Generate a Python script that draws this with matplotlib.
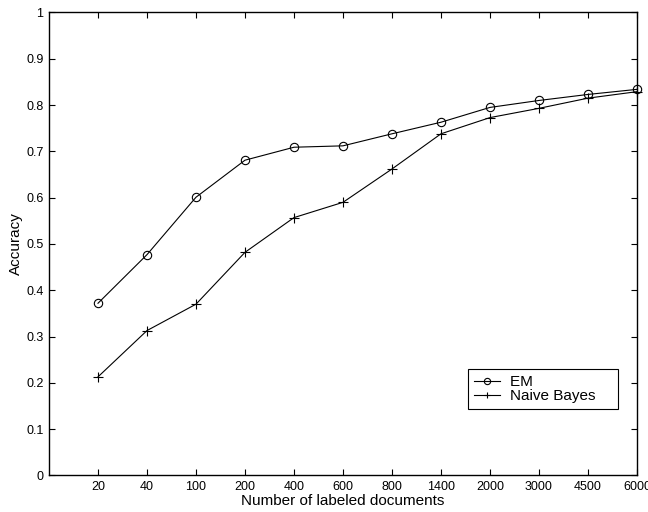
import matplotlib.pyplot as plt
import numpy as np

plt.rcParams['font.family'] = ['Liberation Sans', 'DejaVu Sans']

# labeled-document counts (categorical x axis)
doc_counts = ['20', '40', '100', '200', '400', '600', '800', '1400', '2000', '3000', '4500', '6000']
em_acc = [0.372, 0.477, 0.601, 0.681, 0.709, 0.712, 0.738, 0.763, 0.795, 0.810, 0.823, 0.834]
nb_acc = [0.213, 0.313, 0.370, 0.482, 0.557, 0.590, 0.662, 0.738, 0.773, 0.793, 0.815, 0.829]

fig = plt.figure(figsize=(6.48, 5.12), dpi=100)
ax = fig.add_axes([0.0756, 0.0713, 0.9074, 0.9043])

xs = np.arange(1, len(doc_counts) + 1)
ax.plot(xs, em_acc, color='black', lw=0.8, marker='o', ms=6, mfc='none',
        mec='black', mew=0.8, label='EM', clip_on=False)
ax.plot(xs, nb_acc, color='black', lw=0.8, marker='+', ms=6.5, mew=0.8,
        label='Naive Bayes', clip_on=False)

ax.set_xlim(0, len(doc_counts))
ax.set_ylim(0, 1)
ax.set_xticks(xs)
ax.set_xticklabels(doc_counts)
ax.set_yticks(np.arange(0, 1.01, 0.1))
ax.set_yticklabels(['0'] + ['%.1f' % v for v in np.arange(0.1, 0.95, 0.1)] + ['1'])
ax.tick_params(direction='in', top=True, right=True, length=4, width=0.8,
               labelsize=9, pad=4)
for s in ax.spines.values():
    s.set_linewidth(1.0)

ax.set_xlabel('Number of labeled documents', fontsize=11, labelpad=1)
ax.set_ylabel('Accuracy', fontsize=11, labelpad=2)

# MATLAB-style legend box, a bit of extra room on the right
leg = ax.legend(loc='upper right', bbox_to_anchor=(0.968, 0.230), fontsize=11,
                fancybox=False, edgecolor='black', framealpha=1,
                handlelength=1.65, borderpad=0.4, labelspacing=0.0,
                handletextpad=0.65, borderaxespad=0)
leg.get_frame().set_linewidth(0.8)
for h in leg.legend_handles:
    h.set_markersize(4.5)
for t in leg.get_texts():
    t.set_text(t.get_text() + '    ')

fig.savefig('out.png', dpi=100)
